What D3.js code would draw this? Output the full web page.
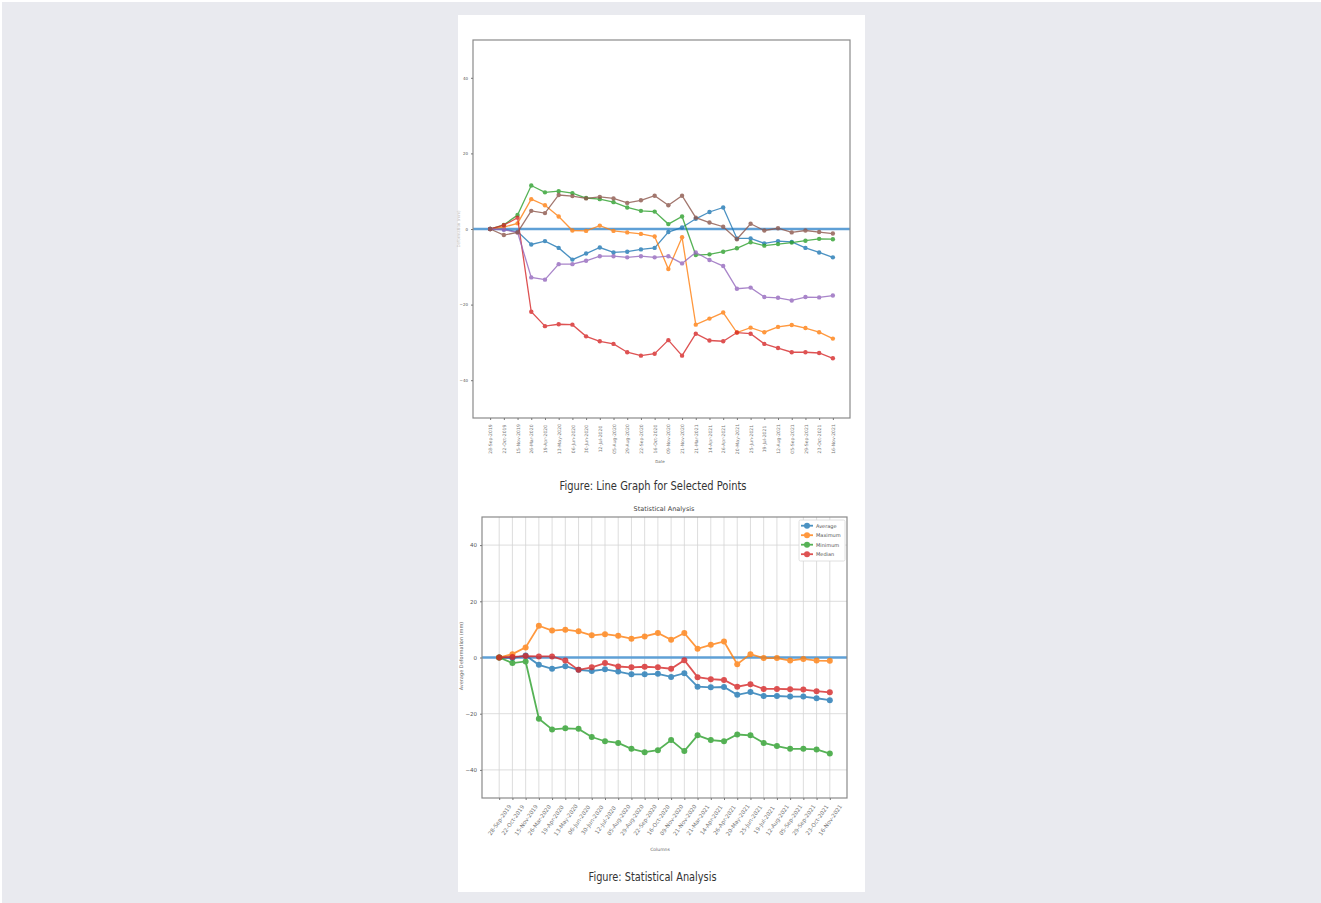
<!DOCTYPE html>
<html>
<head>
<meta charset="utf-8">
<script src="https://cdn.jsdelivr.net/npm/d3@7"></script>
<style>
  html, body { margin: 0; padding: 0; background: #ffffff; }
  svg { display: block; }
  text { font-family: "DejaVu Sans", sans-serif; }
</style>
</head>
<body>
<svg width="1321" height="903"></svg>
<script>
// dates of the 26 acquisitions (same for both figures)
var dates = ["28-Sep-2019", "22-Oct-2019", "15-Nov-2019", "26-Mar-2020", "19-Apr-2020",
  "13-May-2020", "06-Jun-2020", "30-Jun-2020", "12-Jul-2020", "05-Aug-2020",
  "29-Aug-2020", "22-Sep-2020", "16-Oct-2020", "09-Nov-2020", "21-Nov-2020",
  "21-Mar-2021", "14-Apr-2021", "26-Apr-2021", "20-May-2021", "25-Jun-2021",
  "19-Jul-2021", "12-Aug-2021", "05-Sep-2021", "29-Sep-2021", "23-Oct-2021", "16-Nov-2021"];

var yTicks = [-40, -20, 0, 20, 40];

// selected points (top figure)
var point1 = [0, -0.1, -0.7, -4.1, -3.2, -5.0, -8.1, -6.5, -4.9, -6.2, -6.0, -5.4, -5.0, -0.8, 0.4, 2.7, 4.5, 5.7, -2.5, -2.5, -3.8, -3.2, -3.4, -5.0, -6.2, -7.5];
var point2 = [0, 0.5, 1.5, 7.9, 6.3, 3.3, -0.4, -0.5, 0.9, -0.5, -0.9, -1.3, -2.0, -10.6, -2.2, -25.3, -23.7, -22.1, -27.4, -26.1, -27.3, -25.9, -25.4, -26.2, -27.3, -29.0];
var point3 = [0, 1.1, 3.7, 11.5, 9.7, 10.0, 9.5, 8.2, 7.9, 7.1, 5.7, 4.8, 4.6, 1.3, 3.3, -6.9, -6.7, -6.0, -5.1, -3.5, -4.4, -4.0, -3.6, -3.1, -2.6, -2.7];
var point4 = [0, 1.0, 3.0, -21.9, -25.7, -25.2, -25.3, -28.4, -29.7, -30.4, -32.6, -33.5, -33.0, -29.4, -33.5, -27.7, -29.5, -29.7, -27.4, -27.7, -30.4, -31.5, -32.6, -32.6, -32.8, -34.2];
var point5 = [0, -0.2, -0.9, -12.8, -13.4, -9.3, -9.3, -8.4, -7.2, -7.2, -7.5, -7.2, -7.5, -7.2, -9.1, -6.2, -8.2, -9.8, -15.8, -15.5, -18.0, -18.2, -18.9, -18.0, -18.1, -17.6];
var point6 = [0, -1.6, -0.9, 4.8, 4.2, 9.0, 8.7, 8.1, 8.5, 8.1, 6.9, 7.6, 8.8, 6.3, 8.8, 3.0, 1.7, 0.6, -2.7, 1.4, -0.4, 0.2, -0.9, -0.4, -0.8, -1.2];

// statistics (bottom figure)
var average = [0, -0.2, 0.7, -2.6, -4.0, -3.1, -4.4, -4.8, -4.2, -5.0, -6.0, -6.0, -5.8, -6.9, -5.6, -10.4, -10.6, -10.5, -13.3, -12.3, -13.7, -13.7, -13.9, -13.9, -14.5, -15.2];
var maximum = [0, 1.2, 3.6, 11.3, 9.6, 9.9, 9.3, 7.9, 8.3, 7.7, 6.7, 7.5, 8.7, 6.3, 8.7, 3.1, 4.5, 5.7, -2.4, 1.2, -0.2, -0.2, -1.1, -0.5, -1.1, -1.2];
var minimum = [0, -2.0, -1.4, -21.8, -25.6, -25.2, -25.4, -28.3, -29.8, -30.4, -32.5, -33.7, -33.0, -29.4, -33.3, -27.7, -29.4, -29.8, -27.4, -27.7, -30.4, -31.5, -32.5, -32.5, -32.7, -34.2];
var median = [0, 0.2, 0.5, 0.4, 0.4, -1.1, -4.4, -3.5, -2.0, -3.2, -3.5, -3.3, -3.5, -4.0, -1.0, -7.0, -7.7, -8.0, -10.4, -9.5, -11.2, -11.2, -11.3, -11.4, -12.0, -12.4];

var tab = ["#1f77b4", "#ff7f0e", "#2ca02c", "#d62728", "#9467bd", "#8c564b"];

var svg = d3.select("svg");

// page background and white sheet
svg.append("rect").attr("x", 2).attr("y", 2).attr("width", 1319).attr("height", 901).attr("fill", "#e9eaef");
svg.append("rect").attr("x", 458).attr("y", 15).attr("width", 407).attr("height", 877).attr("fill", "#ffffff");

// draws one matplotlib-like panel
function drawPanel(opt) {
    var x = d3.scalePoint().domain(dates).range([opt.left, opt.right]).padding(opt.pad);
    var y = d3.scaleLinear().domain([-50, 50]).range([opt.bottom, opt.top]);
    var g = svg.append("g");

    if (opt.grid) {
        g.selectAll(".vg").data(dates).enter().append("line")
            .attr("x1", d => x(d)).attr("x2", d => x(d))
            .attr("y1", opt.top).attr("y2", opt.bottom)
            .attr("stroke", "#d4d4d4").attr("stroke-width", 0.8);
        g.selectAll(".hg").data(yTicks).enter().append("line")
            .attr("x1", opt.left).attr("x2", opt.right)
            .attr("y1", d => y(d)).attr("y2", d => y(d))
            .attr("stroke", "#d4d4d4").attr("stroke-width", 0.8);
    }

    // zero reference line
    g.append("line")
        .attr("x1", opt.left).attr("x2", opt.right)
        .attr("y1", y(0)).attr("y2", y(0))
        .attr("stroke", "#5fa0d6").attr("stroke-width", 2.4);

    var line = d3.line().x((d, i) => x(dates[i])).y(d => y(d));
    opt.series.forEach(function (s, k) {
        var sg = g.append("g").attr("opacity", 0.8);
        sg.append("path").datum(s.values)
            .attr("d", line).attr("fill", "none")
            .attr("stroke", s.color).attr("stroke-width", opt.lw);
        sg.selectAll("circle").data(s.values).enter().append("circle")
            .attr("cx", (d, i) => x(dates[i])).attr("cy", d => y(d))
            .attr("r", opt.r).attr("fill", s.color);
    });

    // frame
    g.append("rect")
        .attr("x", opt.left).attr("y", opt.top)
        .attr("width", opt.right - opt.left).attr("height", opt.bottom - opt.top)
        .attr("fill", "none").attr("stroke", "#8a8a8a").attr("stroke-width", 1.2);

    // axes
    var yAxis = g.append("g").attr("transform", "translate(" + opt.left + ",0)")
        .call(d3.axisLeft(y).tickValues(yTicks).tickSize(2).tickFormat(d => d < 0 ? "\u2212" + (-d) : d));
    yAxis.select(".domain").remove();
    yAxis.selectAll("line").attr("stroke", "#777");
    yAxis.selectAll("text").attr("font-size", opt.tickFont).attr("fill", "#555").attr("font-family", "DejaVu Sans");

    var xAxis = g.append("g").attr("transform", "translate(0," + opt.bottom + ")")
        .call(d3.axisBottom(x).tickSize(2));
    xAxis.select(".domain").remove();
    xAxis.selectAll("line").attr("stroke", "#777");
    // labels centred on their tick, then rotated
    xAxis.selectAll("text")
        .attr("font-size", opt.xTickFont).attr("fill", "#777").attr("font-family", "DejaVu Sans")
        .attr("text-anchor", "middle").attr("y", 0).attr("dy", "0.35em")
        .attr("transform", opt.rot);

    return { g: g, x: x, y: y };
}

// top figure: line graph for selected points
var top1 = drawPanel({
    left: 473, right: 850, top: 40, bottom: 418, pad: 1.25,
    lw: 1.3, r: 2.2, tickFont: 4, xTickFont: 4.6, grid: false,
    rot: "translate(0,21) rotate(-90)",
    series: [point1, point2, point3, point4, point5, point6].map((v, i) => ({ values: v, color: tab[i] }))
});
top1.g.append("text").attr("x", 660).attr("y", 463).attr("text-anchor", "middle")
    .attr("font-size", 4).attr("fill", "#666").text("Date");
top1.g.append("text").attr("transform", "translate(460,229) rotate(-90)").attr("text-anchor", "middle")
    .attr("font-size", 4).attr("fill", "#bbb").text("Deformation (mm)");

// bottom figure: statistical analysis
var bot = drawPanel({
    left: 482, right: 847, top: 517, bottom: 798, pad: 1.3,
    lw: 1.8, r: 3.0, tickFont: 5.5, xTickFont: 5.6, grid: true,
    rot: "translate(0,22) rotate(-55)",
    series: [
        { name: "Average", values: average, color: tab[0] },
        { name: "Maximum", values: maximum, color: tab[1] },
        { name: "Minimum", values: minimum, color: tab[2] },
        { name: "Median", values: median, color: tab[3] }
    ]
});
bot.g.append("text").attr("x", 664).attr("y", 511).attr("text-anchor", "middle")
    .attr("font-size", 6.5).attr("fill", "#444").text("Statistical Analysis");
bot.g.append("text").attr("x", 660).attr("y", 851).attr("text-anchor", "middle")
    .attr("font-size", 4.5).attr("fill", "#666").text("Columns");
bot.g.append("text").attr("transform", "translate(463,656) rotate(-90)").attr("text-anchor", "middle")
    .attr("font-size", 5).attr("fill", "#666").text("Average Deformation (mm)");

// legend
var legNames = ["Average", "Maximum", "Minimum", "Median"];
var leg = bot.g.append("g");
leg.append("rect").attr("x", 799).attr("y", 520).attr("width", 46).attr("height", 41)
    .attr("rx", 1.5).attr("fill", "#fff").attr("stroke", "#d8d8d8").attr("stroke-width", 0.8);
legNames.forEach(function (n, i) {
    var ly = 525.7 + i * 9.5;
    var lg = leg.append("g").attr("opacity", 0.8);
    lg.append("line").attr("x1", 801).attr("x2", 813).attr("y1", ly).attr("y2", ly)
        .attr("stroke", tab[i]).attr("stroke-width", 1.8);
    lg.append("circle").attr("cx", 807).attr("cy", ly).attr("r", 3).attr("fill", tab[i]);
    leg.append("text").attr("x", 816).attr("y", ly + 1.8).attr("font-size", 5)
        .attr("fill", "#555").text(n);
});

// captions
svg.append("text").attr("x", 653).attr("y", 490).attr("text-anchor", "middle")
    .attr("font-family", "Open Sans").attr("font-size", 12.5).attr("fill", "#333")
    .attr("textLength", 187).attr("lengthAdjust", "spacingAndGlyphs")
    .text("Figure: Line Graph for Selected Points");
svg.append("text").attr("x", 652.5).attr("y", 881).attr("text-anchor", "middle")
    .attr("font-family", "Open Sans").attr("font-size", 12.5).attr("fill", "#333")
    .attr("textLength", 128).attr("lengthAdjust", "spacingAndGlyphs")
    .text("Figure: Statistical Analysis");
</script>
</body>
</html>
